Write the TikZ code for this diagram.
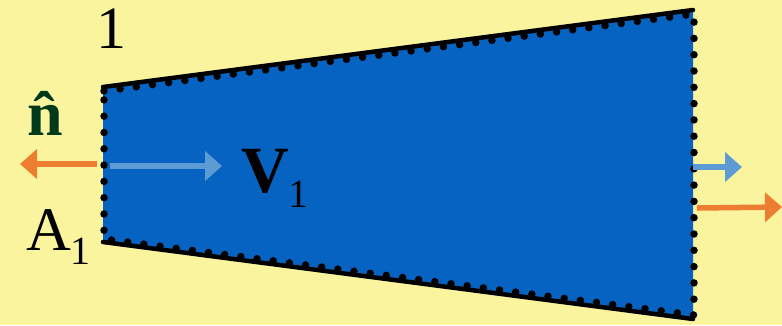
\documentclass[tikz,border=0pt]{standalone}
\usepackage{fontspec}
\setmainfont{Liberation Serif}
\usetikzlibrary{arrows.meta}
\definecolor{paper}{RGB}{251,244,158}
\definecolor{duct}{RGB}{7,99,193}
\definecolor{flow}{RGB}{93,155,213}
\definecolor{outw}{RGB}{237,125,49}
\definecolor{hatg}{RGB}{0,58,26}
\tikzset{
  wall/.style={line width=4.5pt, line cap=round},
  rim/.style={line width=7.5pt, line cap=round, dash pattern=on 0pt off 16.3pt},
  vec/.style={line width=5.5pt, -{Triangle[length=17pt, width=29pt]}},
  lab/.style={inner sep=0pt, anchor=base west, font=\fontsize{62}{62}\selectfont}
}
\newcommand{\lowsub}[1]{\raisebox{-0.24em}{\fontsize{40}{40}\selectfont #1}}

\begin{document}
\begin{tikzpicture}[x=1pt, y=-1pt]
	% background
	\fill[paper] (0,0) rectangle (782,325);
	\useasboundingbox (0,0) rectangle (782,325);
	% control volume
	\coordinate (a) at (103,87);
	\coordinate (b) at (693,10);
	\coordinate (c) at (693,319);
	\coordinate (d) at (103,242);
	\fill[duct] (a) -- (b) -- (c) -- (d) -- cycle;
	\draw[wall] (a) -- (b);
	\draw[wall] (d) -- (c);
	\coordinate (ra) at (104,91);
	\coordinate (rb) at (694,14);
	\coordinate (rc) at (694,315);
	\coordinate (rd) at (104,239);
	\draw[rim] (ra) -- (rb) -- (rc) -- (rd) -- cycle;
	% vectors
	\coordinate (n1s) at (97,164);
	\coordinate (n1e) at (20,164);
	\coordinate (v1s) at (110,166);
	\coordinate (v1e) at (222,166);
	\coordinate (v2s) at (693,167);
	\coordinate (v2e) at (742,167);
	\coordinate (n2s) at (697,208);
	\coordinate (n2e) at (782,207);
	\draw[vec, outw] (n1s) -- (n1e);
	\draw[vec, flow] (v1s) -- (v1e);
	\draw[vec, flow] (v2s) -- (v2e);
	\draw[vec, outw] (n2s) -- (n2e);
	% labels
	\node[lab, font=\fontsize{60}{60}\selectfont] (one) at (96,48) {1};
	\node[lab, font=\fontsize{64}{64}\selectfont\bfseries, text=hatg] (nhat) at (27,135) {\^n};
	\node[lab] (area) at (26,250) {A\lowsub{1}};
	\node[lab, font=\fontsize{66}{66}\selectfont] (vel) at (241,192) {\textbf{V}\lowsub{1}};
\end{tikzpicture}
\end{document}
